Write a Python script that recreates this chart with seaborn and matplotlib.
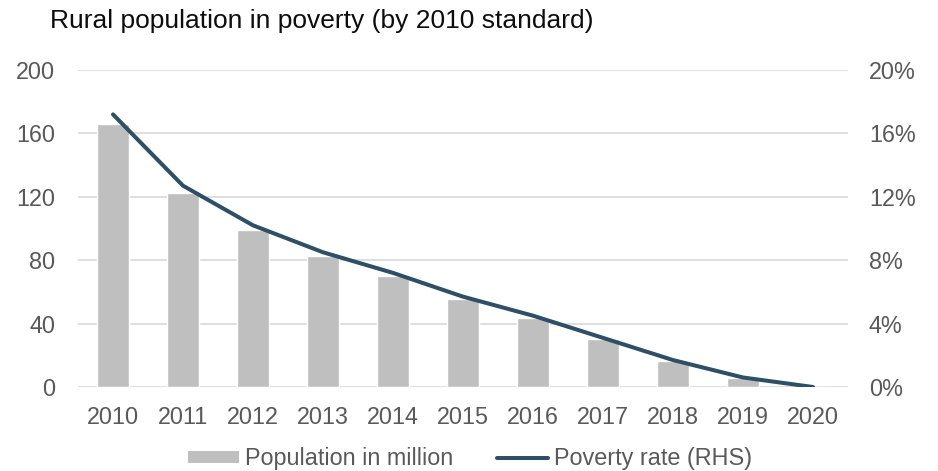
import matplotlib
matplotlib.use("Agg")
import matplotlib.pyplot as plt
import seaborn as sns
import pandas as pd
import numpy as np
from matplotlib.patches import Patch
from matplotlib.lines import Line2D
from matplotlib.ticker import FuncFormatter

years = ["2010", "2011", "2012", "2013", "2014", "2015", "2016", "2017", "2018", "2019", "2020"]
population = [165.67, 122.38, 98.99, 82.49, 70.17, 55.75, 43.35, 30.46, 16.60, 5.51, 0.0]
poverty_rate = [17.2, 12.7, 10.2, 8.5, 7.2, 5.7, 4.5, 3.1, 1.7, 0.6, 0.0]
left_ticks = [0, 40, 80, 120, 160, 200]
right_ticks = [0, 4, 8, 12, 16, 20]
title = "Rural population in poverty (by 2010 standard)"

df = pd.DataFrame({"year": years, "population": population, "rate": poverty_rate})

sns.set_theme(style="white")
plt.rcParams["font.family"] = ["Liberation Sans", "DejaVu Sans"]

text_color = "#595959"
bar_color = "#BFBFBF"
line_color = "#2E4F66"
grid_color = "#D9D9D9"
fs = 16.8

fig = plt.figure(figsize=(9.38, 4.71), dpi=100)
ax = fig.add_axes([78 / 938, 1 - 387 / 471, (848 - 78) / 938, (387 - 70) / 471])

sns.barplot(data=df, x="year", y="population", color=bar_color, width=0.46,
            saturation=1, ax=ax, zorder=2)
ax.set_ylim(0, 200)
ax.set_yticks(left_ticks)
ax.set_xlim(-0.5, len(years) - 0.5)
ax.grid(axis="y", color=grid_color, linewidth=1.2, zorder=0)
ax.set_axisbelow(True)
for s in ax.spines.values():
    s.set_visible(False)
ax.set_xlabel("")
ax.set_ylabel("")
ax.tick_params(axis="both", length=0, labelsize=fs, colors=text_color)
ax.tick_params(axis="x", pad=13.5)
ax.tick_params(axis="y", pad=16.5)

ax2 = ax.twinx()
sns.lineplot(x=np.arange(len(years)), y=poverty_rate, color=line_color, linewidth=2.9,
             ax=ax2, zorder=3)
ax2.lines[0].set_solid_capstyle("round")
ax2.lines[0].set_solid_joinstyle("round")
ax2.set_ylim(0, 20)
ax2.set_yticks(right_ticks)
ax2.yaxis.set_major_formatter(FuncFormatter(lambda v, p: f"{int(v)}%"))
for s in ax2.spines.values():
    s.set_visible(False)
ax2.tick_params(axis="y", length=0, labelsize=fs, colors=text_color, pad=15)
ax2.set_xlim(-0.5, len(years) - 0.5)

fig.text(50 / 938, 1 - 21 / 471, title, fontsize=19, color="#0D0D0D", va="center", ha="left")

handles = [Patch(facecolor=bar_color, edgecolor="none"),
           Line2D([0], [0], color=line_color, linewidth=2.9)]
fig.legend(handles, ["Population in million", "Poverty rate (RHS)"],
           loc="center", bbox_to_anchor=(470 / 938, 1 - 459 / 471), ncol=2, frameon=False,
           fontsize=fs, labelcolor=text_color, handlelength=2.2, handleheight=0.4,
           handletextpad=0.25, columnspacing=1.85, borderpad=0.1)

fig.savefig("out.png", dpi=100)
